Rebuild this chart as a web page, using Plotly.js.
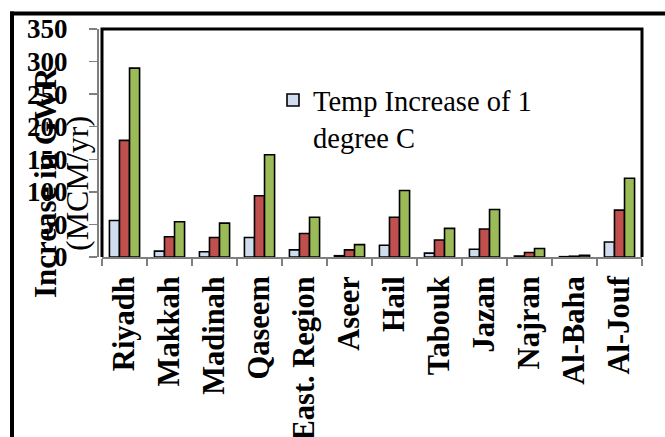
<!DOCTYPE html>
<html>
<head>
<meta charset="utf-8">
<script src="https://cdn.plot.ly/plotly-3.0.1.min.js"></script>
<style>
html,body{margin:0;padding:0;background:#fff;}
#chart{width:665px;height:437px;}
</style>
</head>
<body>
<div id="chart"></div>
<script>
// ---- data ----
const categories = ["Riyadh","Makkah","Madinah","Qaseem","East. Region","Aseer","Hail","Tabouk","Jazan","Najran","Al-Baha","Al-Jouf"];
const seriesNames = ["Temp Increase of 1<br>degree C","Temp Increase of 2 degree C","Temp Increase of 3 degree C"];
const temp1 = [56, 9, 8, 30, 11, 2, 18, 6, 12, 1.5, 0.5, 23];
const temp2 = [179, 31, 30, 94, 36, 11, 61, 26, 43, 7, 1.2, 72];
const temp3 = [290, 54, 52, 157, 61, 19, 102, 44, 73, 13, 2.6, 121];
const yTicks = [0, 50, 100, 150, 200, 250, 300, 350];

// ---- layout geometry ----
const WIDTH = 665, HEIGHT = 437;
const M = {l: 98, r: 23, t: 29, b: 180};
const PW = WIDTH - M.l - M.r, PH = HEIGHT - M.t - M.b;
const px = x => (x - M.l) / PW;
const py = y => 1 - (y - M.t) / PH;
const x0 = px(102);

const FONT = "Liberation Serif, 'Times New Roman', Times, serif";
const colors = ["#CFDDEF", "#C0504D", "#9BBB59"];
const vals = [temp1, temp2, temp3];

const traces = vals.map((v, i) => ({
  type: "bar",
  x: categories,
  y: v,
  name: seriesNames[i],
  showlegend: i === 0,
  marker: {color: colors[i], line: {color: "#000", width: 1.6}}
}));

const layout = {
  width: WIDTH, height: HEIGHT,
  margin: M,
  paper_bgcolor: "#fff", plot_bgcolor: "#fff",
  bargap: 0.33, bargroupgap: 0,
  barmode: "group",
  font: {family: FONT, color: "#000"},
  xaxis: {
    domain: [x0, 1],
    type: "category",
    showgrid: false,
    showline: true, linecolor: "#7f7f7f", linewidth: 2,
    ticks: "outside", tickson: "boundaries", ticklen: 7, tickwidth: 1.5, tickcolor: "#7f7f7f",
    tickangle: -90,
    tickfont: {family: FONT, size: 30.5, weight: "bold", color: "#000"},
    ticklabelstandoff: 5,
    automargin: false
  },
  yaxis: {
    range: [0, 350],
    tickvals: yTicks,
    ticktext: yTicks.map(String),
    anchor: "free", position: 0,
    showgrid: false, zeroline: false,
    showline: true, linecolor: "#7f7f7f", linewidth: 2,
    ticks: "outside", ticklen: 8, tickwidth: 1.5, tickcolor: "#7f7f7f",
    tickfont: {family: FONT, size: 27, weight: "bold", color: "#000"},
    ticklabelstandoff: 16,
    automargin: false
  },
  showlegend: true,
  legend: {
    x: px(273), y: py(75), xanchor: "left", yanchor: "top",
    bgcolor: "rgba(0,0,0,0)", borderwidth: 0,
    valign: "top",
    font: {family: FONT, size: 28.5, color: "#000"}
  },
  shapes: [
    // plot-area black frame (left, top, right)
    {type: "path", xref: "paper", yref: "paper", layer: "above",
     path: `M ${x0} 0 L ${x0} 1 L 1 1 L 1 0`, line: {color: "#000", width: 3}},
    // outer frame top
    {type: "line", xref: "paper", yref: "paper", x0: px(10), x1: px(665), y0: py(13.5), y1: py(13.5),
     line: {color: "#000", width: 4}},
    // outer frame left
    {type: "line", xref: "paper", yref: "paper", x0: px(12), x1: px(12), y0: py(11.5), y1: py(437),
     line: {color: "#000", width: 4}}
  ],
  annotations: [
    {xref: "paper", yref: "paper", x: px(45), y: py(183), text: "<b>Increase in GWR</b>",
     textangle: -90, showarrow: false, xanchor: "center", yanchor: "middle",
     font: {family: FONT, size: 31, color: "#000"}},
    {xref: "paper", yref: "paper", x: px(77), y: py(184), text: "(MCM/yr)",
     textangle: -90, showarrow: false, xanchor: "center", yanchor: "middle",
     font: {family: FONT, size: 32, color: "#000"}}
  ]
};

Plotly.newPlot("chart", traces, layout, {displayModeBar: false, staticPlot: true});
</script>
</body>
</html>
